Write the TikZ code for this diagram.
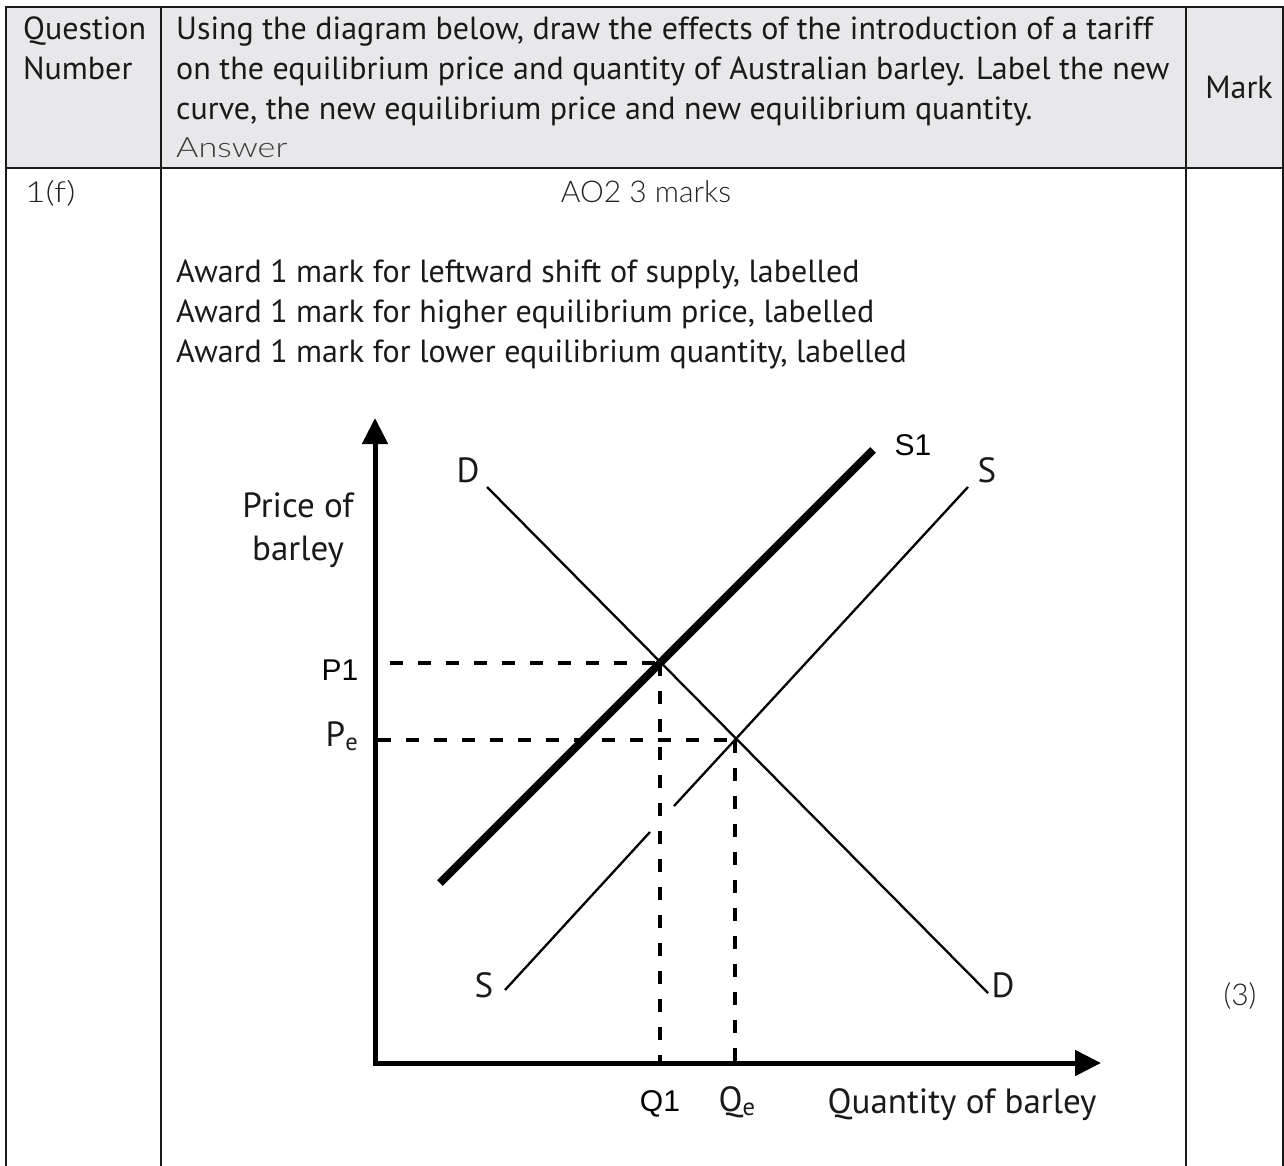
\documentclass[tikz,border=0pt]{standalone}
\usepackage{fontspec}
\usetikzlibrary{arrows.meta}
\setmainfont{PT Sans}
\newfontfamily\bodyf{PT Sans}
\IfFontExistsTF{Lato Light}{%
  \newfontfamily\lightf{Lato Light}%
  \newfontfamily\lightwidef{Lato Light}[FakeStretch=1.22]}{%
  \newfontfamily\lightf{Lato}%
  \newfontfamily\lightwidef{Lato}[FakeStretch=1.22]}
\newfontfamily\arialf{Liberation Sans}
\definecolor{hdr}{HTML}{E8E8EA}
\definecolor{txt}{HTML}{1A1A1A}
\definecolor{lgt}{HTML}{222222}
\definecolor{ansc}{HTML}{3A3A3A}
\tikzset{
  tbl/.style={line width=2pt, draw=txt},
  bodytxt/.style={anchor=base west, inner sep=0pt, font=\bodyf\fontsize{32}{36}\selectfont, text=txt},
  lighttxt/.style={anchor=base, inner sep=0pt, font=\lightf\fontsize{30}{34}\selectfont, text=lgt},
  axis/.style={line width=5pt, -{Triangle[length=26pt,width=25pt]}},
  curve/.style={line width=2.3pt},
  newcurve/.style={line width=8pt},
  guide/.style={line width=3.3pt, dash pattern=on 13pt off 15pt},
  glab/.style={inner sep=0pt, font=\bodyf\fontsize{35}{43}\selectfont, text=txt},
  alab/.style={inner sep=0pt, font=\arialf\fontsize{30}{34}\selectfont, text=black}
}
\begin{document}
\begin{tikzpicture}[x=1pt,y=-1pt]
\useasboundingbox (0,0) rectangle (1284,1166);
\fill[white] (0,0) rectangle (1284,1166);
% table
\fill[hdr] (6,7) rectangle (1283,168);
\draw[tbl] (6,1166) -- (6,7) -- (1283,7) -- (1283,1166);
\draw[tbl] (6,168) -- (1283,168);
\draw[tbl] (161,7) -- (161,1166);
\draw[tbl] (1186,7) -- (1186,1166);
% header text
\node[bodytxt] (q1) at (23,40) {Question};
\node[bodytxt] (q2) at (23,80) {Number};
\node[bodytxt] (h1) at (176,40) {Using the diagram below, draw the effects of the introduction of a tariff};
\node[bodytxt] (h2) at (176,80) {on the equilibrium price and quantity of Australian barley. Label the new};
\node[bodytxt] (h3) at (176,120) {curve, the new equilibrium price and new equilibrium quantity.};
\node[anchor=base west, inner sep=0pt, font=\lightwidef\fontsize{28}{32}\selectfont, text=ansc] (ans) at (176,158) {Answer};
\node[bodytxt, anchor=base] (mark) at (1239,99) {Mark};
% body
\node[lighttxt, anchor=base west, font=\lightwidef\fontsize{29}{33}\selectfont] (num) at (25,203) {1(f)};
\node[lighttxt] (ao) at (646,203) {AO2 3 marks};
\node[bodytxt] (a1) at (176,282) {Award 1 mark for leftward shift of supply, labelled};
\node[bodytxt] (a2) at (176,322) {Award 1 mark for higher equilibrium price, labelled};
\node[bodytxt] (a3) at (176,362) {Award 1 mark for lower equilibrium quantity, labelled};
\node[lighttxt] (m3) at (1240,1005) {(3)};
% graph
\coordinate (O) at (375,1063);
\coordinate (ytop) at (375,418);
\coordinate (xend) at (1101,1063);
\draw[axis] (O) -- (ytop);
\draw[axis] ([xshift=-2.5pt]O) -- (xend);
\coordinate (Dtop) at (487,487);
\coordinate (Dbot) at (988,993);
\coordinate (Stop) at (968,487);
\coordinate (Sbot) at (505,990);
\coordinate (Sg1) at (650,832);
\coordinate (Sg2) at (674,806);
\coordinate (S1top) at (873,450);
\coordinate (S1bot) at (440,883);
\coordinate (E1) at (660,663);
\coordinate (Ee) at (735,740);
\draw[curve] (Dtop) -- (Dbot);
\draw[curve] (Sbot) -- (Sg1);
\draw[curve] (Sg2) -- (Stop);
\draw[newcurve] (S1bot) -- (S1top);
\coordinate (P1a) at (390,663);
\coordinate (Pea) at (378,740);
\coordinate (Q1a) at (660,1063);
\coordinate (Qea) at (735,1063);
\draw[guide] (P1a) -- (E1);
\draw[guide] (Pea) -- (Ee);
\draw[guide] (E1) -- (Q1a);
\draw[guide] (Ee) -- (Qea);
% labels
\node[glab, align=center] (plab) at (298,530) {Price of\\barley};
\node[glab] (dt) at (468,470) {D};
\node[glab] (db) at (1003,985) {D};
\node[glab] (st) at (987,470) {S};
\node[glab] (sb) at (484,985) {S};
\node[alab] (s1l) at (913,445) {S1};
\node[alab] (p1l) at (340,670) {P1};
\node[glab] (pel) at (342,736) {P\textsubscript{e}};
\node[alab] (q1l) at (660,1104) {Q1};
\node[glab] (qel) at (737,1102) {Q\textsubscript{e}};
\node[glab] (qlab) at (962,1105) {Quantity of barley};
\end{tikzpicture}
\end{document}
